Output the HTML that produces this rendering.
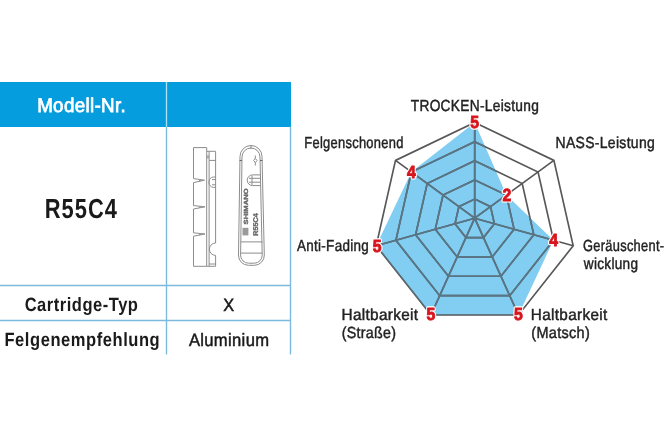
<!DOCTYPE html>
<html><head><meta charset="utf-8">
<style>
html,body{margin:0;padding:0;background:#fff;}
body{width:666px;height:438px;overflow:hidden;position:relative;}
svg{position:absolute;left:0;top:0;display:block;will-change:transform;}
text{font-family:"Liberation Sans",sans-serif;text-rendering:geometricPrecision;}
</style></head><body>
<svg width="666" height="438" viewBox="0 0 666 438">
<!-- table header -->
<rect x="0" y="82" width="291" height="45" fill="#069ddf"/>
<line x1="166.5" y1="82" x2="166.5" y2="127" stroke="#a9e2f8" stroke-width="1.3"/>
<g stroke="#7cbadd" stroke-width="1.4" fill="none">
<line x1="166.5" y1="126.7" x2="166.5" y2="354.5"/>
<line x1="290.5" y1="126.7" x2="290.5" y2="354.5"/>
<line x1="0" y1="285.5" x2="291" y2="285.5"/>
<line x1="0" y1="320.5" x2="291" y2="320.5"/>
</g>
<text transform="scale(0.944563 1)" x="39.327" y="112.00" font-size="19.9" font-weight="normal" style="letter-spacing:0.350px" fill="#fff" stroke="#fff" stroke-width="0.75">Modell-Nr.</text>
<text transform="scale(0.796036 1)" x="56.185" y="218.20" font-size="27.5" font-weight="bold" style="letter-spacing:1.300px" fill="#1a1a1a">R55C4</text>
<text transform="scale(0.86 1)" x="28.700" y="310.80" font-size="19.2" font-weight="bold" style="letter-spacing:0.612px" fill="#1a1a1a">Cartridge-Typ</text>
<text transform="scale(0.86 1)" x="5.207" y="346.00" font-size="19.2" font-weight="bold" style="letter-spacing:0.662px" fill="#1a1a1a">Felgenempfehlung</text>
<text transform="scale(0.92 1)" x="242.594" y="310.60" font-size="17.8" font-weight="normal" style="letter-spacing:0.000px" fill="#1a1a1a" stroke="#1a1a1a" stroke-width="0.5">X</text>
<text transform="scale(0.933949 1)" x="202.257" y="346.30" font-size="17.8" font-weight="normal" style="letter-spacing:0.350px" fill="#1a1a1a" stroke="#1a1a1a" stroke-width="0.5">Aluminium</text>
<text transform="scale(0.858083 1)" x="478.666" y="111.00" font-size="16" font-weight="normal" style="letter-spacing:0.350px" fill="#222" stroke="#222" stroke-width="0.45">TROCKEN-Leistung</text>
<text transform="scale(0.805996 1)" x="377.577" y="148.00" font-size="16" font-weight="normal" style="letter-spacing:0.350px" fill="#222" stroke="#222" stroke-width="0.45">Felgenschonend</text>
<text transform="scale(0.872625 1)" x="636.715" y="148.00" font-size="16" font-weight="normal" style="letter-spacing:0.350px" fill="#222" stroke="#222" stroke-width="0.45">NASS-Leistung</text>
<text transform="scale(0.840626 1)" x="353.306" y="251.00" font-size="16" font-weight="normal" style="letter-spacing:0.350px" fill="#222" stroke="#222" stroke-width="0.45">Anti-Fading</text>
<text transform="scale(0.803161 1)" x="725.958" y="251.00" font-size="16" font-weight="normal" style="letter-spacing:0.350px" fill="#222" stroke="#222" stroke-width="0.45">Geräuschent-</text>
<text transform="scale(0.848664 1)" x="687.954" y="269.00" font-size="16" font-weight="normal" style="letter-spacing:0.350px" fill="#222" stroke="#222" stroke-width="0.45">wicklung</text>
<text transform="scale(0.95858 1)" x="356.229" y="320.00" font-size="16" font-weight="normal" style="letter-spacing:0.350px" fill="#222" stroke="#222" stroke-width="0.45">Haltbarkeit</text>
<text transform="scale(0.89025 1)" x="383.759" y="338.00" font-size="16" font-weight="normal" style="letter-spacing:0.350px" fill="#222" stroke="#222" stroke-width="0.45">(Straße)</text>
<text transform="scale(0.954188 1)" x="556.366" y="320.00" font-size="16" font-weight="normal" style="letter-spacing:0.350px" fill="#222" stroke="#222" stroke-width="0.45">Haltbarkeit</text>
<text transform="scale(0.903079 1)" x="588.357" y="338.00" font-size="16" font-weight="normal" style="letter-spacing:0.350px" fill="#222" stroke="#222" stroke-width="0.45">(Matsch)</text>
<g fill="none" stroke="#8c8c8c" stroke-width="1">
<path d="M193.5,147.6 H206.7 V266.3 H193.5 V236.2 L205,234 L193.5,232.8 V209 L205,206.8 L193.5,205.6 V182.6 L204.5,180.2 L193.5,178.6 Z"/>
<path d="M199,233.4 L205,234 L199,235.3 Z M199,206.2 L205,206.8 L199,208.1 Z M199,179.4 L204.5,180.2 L199,181.6 Z" fill="#999" stroke="none"/>
<path d="M206.7,151.3 H215.6 V243 A6.2,6.2 0 0 0 215.6,255.4 V266.3 H206.7"/>
<line x1="209.1" y1="151.3" x2="209.1" y2="266.3"/>
<line x1="209.1" y1="160.4" x2="215.6" y2="160.4"/>
<line x1="206.7" y1="156" x2="209.1" y2="156"/>
<line x1="206.7" y1="157.8" x2="209.1" y2="157.8"/>
<line x1="209.1" y1="264" x2="215.6" y2="264"/>
<path d="M215.6,177 H213.5 A4.6,5.2 0 0 0 213.5,187.4 H215.6"/>
<path d="M212,179.6 H215.6 M212,184.8 H215.6"/>
<path d="M240,156.5 A11,11 0 0 1 262,156.5 L264.3,255 A10,10 0 0 1 254.3,265.3 H248.5 A10,10 0 0 1 238.5,255 Z"/>
<path d="M242,157 A9,9 0 0 1 260,157 L262.2,255 A8,8 0 0 1 254.2,263.2 H248.6 A8,8 0 0 1 240.6,255 Z"/>
<line x1="251" y1="145.5" x2="251" y2="149"/>
<path d="M239.6,160.5 H242 M260.1,160.5 H262.5" stroke="#666" stroke-width="1.2"/>
<line x1="240.8" y1="241.9" x2="262.6" y2="241.9"/>
<line x1="240.9" y1="253.1" x2="262.6" y2="253.1"/>
<path d="M260.2,174.9 H252.5 A5.3,5.35 0 0 0 252.5,185.6 H260.4"/>
<path d="M249,178.3 H260.2 M249,182.2 H260.3 M252,175.5 V185"/>
<path d="M255.3,155.5 V158.5 M255.3,162.5 V165.5 M255.3,158.3 L253.6,160.5 L255.3,162.7 L257,160.5 Z"/>
</g>
<g fill="#666">
<text transform="translate(248.2,224.4) rotate(-90)" font-size="6" font-weight="bold" stroke="#666" stroke-width="0.35" textLength="36" lengthAdjust="spacingAndGlyphs">SHIMANO</text>
<text transform="translate(257.8,235.7) rotate(-90)" font-size="6.9" font-weight="bold" stroke="#666" stroke-width="0.35" textLength="22.6" lengthAdjust="spacingAndGlyphs">R55C4</text>
<rect x="242.5" y="227.8" width="5.9" height="7.6" fill="#9a9a9a"/>
</g>
<defs><clipPath id="dp"><polygon points="474.70,122.50 506.38,195.08 553.50,240.20 518.45,315.00 430.95,315.00 376.20,245.70 411.34,171.96"/></clipPath></defs>
<polygon points="474.70,122.50 506.38,195.08 553.50,240.20 518.45,315.00 430.95,315.00 376.20,245.70 411.34,171.96" fill="#82cdf2"/>
<g fill="none" stroke="#575757" stroke-width="1.65" stroke-linejoin="miter"><polygon points="474.70,199.06 490.54,206.64 494.40,223.70 483.45,237.56 465.95,237.56 455.00,223.70 458.86,206.64"/><polygon points="474.70,179.92 506.38,195.08 514.10,229.20 492.20,256.92 457.20,256.92 435.30,229.20 443.02,195.08"/><polygon points="474.70,160.78 522.22,183.52 533.80,234.70 500.95,276.28 448.45,276.28 415.60,234.70 427.18,183.52"/><polygon points="474.70,141.64 538.06,171.96 553.50,240.20 509.70,295.64 439.70,295.64 395.90,240.20 411.34,171.96"/><polygon points="474.70,122.50 553.90,160.40 573.20,245.70 518.45,315.00 430.95,315.00 376.20,245.70 395.50,160.40"/><line x1="474.70" y1="218.20" x2="474.70" y2="122.50"/><line x1="474.70" y1="218.20" x2="553.90" y2="160.40"/><line x1="474.70" y1="218.20" x2="573.20" y2="245.70"/><line x1="474.70" y1="218.20" x2="518.45" y2="315.00"/><line x1="474.70" y1="218.20" x2="430.95" y2="315.00"/><line x1="474.70" y1="218.20" x2="376.20" y2="245.70"/><line x1="474.70" y1="218.20" x2="395.50" y2="160.40"/></g>
<g fill="none" stroke="#587686" stroke-width="1.65" stroke-linejoin="miter" clip-path="url(#dp)"><polygon points="474.70,199.06 490.54,206.64 494.40,223.70 483.45,237.56 465.95,237.56 455.00,223.70 458.86,206.64"/><polygon points="474.70,179.92 506.38,195.08 514.10,229.20 492.20,256.92 457.20,256.92 435.30,229.20 443.02,195.08"/><polygon points="474.70,160.78 522.22,183.52 533.80,234.70 500.95,276.28 448.45,276.28 415.60,234.70 427.18,183.52"/><polygon points="474.70,141.64 538.06,171.96 553.50,240.20 509.70,295.64 439.70,295.64 395.90,240.20 411.34,171.96"/><polygon points="474.70,122.50 553.90,160.40 573.20,245.70 518.45,315.00 430.95,315.00 376.20,245.70 395.50,160.40"/><line x1="474.70" y1="218.20" x2="474.70" y2="122.50"/><line x1="474.70" y1="218.20" x2="553.90" y2="160.40"/><line x1="474.70" y1="218.20" x2="573.20" y2="245.70"/><line x1="474.70" y1="218.20" x2="518.45" y2="315.00"/><line x1="474.70" y1="218.20" x2="430.95" y2="315.00"/><line x1="474.70" y1="218.20" x2="376.20" y2="245.70"/><line x1="474.70" y1="218.20" x2="395.50" y2="160.40"/></g>
<g font-weight="bold" font-size="17.5" fill="#fff" stroke="#fff" stroke-width="3.2" stroke-linejoin="round" text-anchor="middle"><text transform="translate(474.70 128.00) scale(0.9 1)" x="0" y="0">5</text><text transform="translate(506.78 201.00) scale(0.9 1)" x="0" y="0">2</text><text transform="translate(553.50 246.00) scale(0.9 1)" x="0" y="0">4</text><text transform="translate(518.45 320.00) scale(0.9 1)" x="0" y="0">5</text><text transform="translate(430.95 320.00) scale(0.9 1)" x="0" y="0">5</text><text transform="translate(377.00 252.00) scale(0.9 1)" x="0" y="0">5</text><text transform="translate(411.34 178.00) scale(0.9 1)" x="0" y="0">4</text></g>
<g font-weight="bold" font-size="17.5" fill="#d7141c" stroke="#d7141c" stroke-width="0.85" text-anchor="middle"><text transform="translate(474.70 128.00) scale(0.9 1)" x="0" y="0">5</text><text transform="translate(506.78 201.00) scale(0.9 1)" x="0" y="0">2</text><text transform="translate(553.50 246.00) scale(0.9 1)" x="0" y="0">4</text><text transform="translate(518.45 320.00) scale(0.9 1)" x="0" y="0">5</text><text transform="translate(430.95 320.00) scale(0.9 1)" x="0" y="0">5</text><text transform="translate(377.00 252.00) scale(0.9 1)" x="0" y="0">5</text><text transform="translate(411.34 178.00) scale(0.9 1)" x="0" y="0">4</text></g>
</svg>
</body></html>
